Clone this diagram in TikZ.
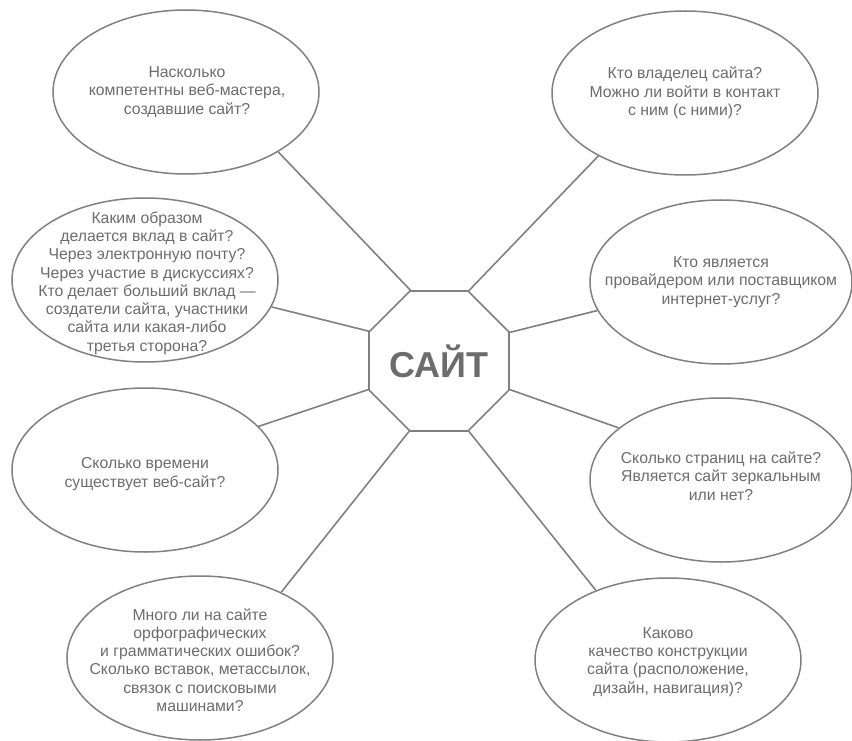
\documentclass[tikz,border=0pt]{standalone}
\usepackage{fontspec}
\setmainfont{Liberation Sans}
\usetikzlibrary{shapes.geometric}
\definecolor{ink}{RGB}{108,108,108}
\definecolor{lineclr}{RGB}{128,128,128}
\begin{document}
\begin{tikzpicture}[x=1pt,y=-1pt,
  bubble/.style={ellipse, draw=lineclr, line width=1.5pt, minimum width=266pt, minimum height=164pt, inner sep=0pt},
  txt/.style={text=ink, align=center, inner sep=0pt, font=\fontsize{15.8}{18.3}\selectfont},
  conn/.style={draw=lineclr, line width=1.6pt}]
\useasboundingbox (0,0) rectangle (852,741);

\node[bubble] (e1) at (186,92) {};
\node[bubble] (e2) at (685,93) {};
\node[bubble] (e3) at (145,280) {};
\node[bubble, minimum width=262pt] (e4) at (721,282) {};
\node[bubble] (e5) at (145,470) {};
\node[bubble, minimum width=262pt] (e6) at (721,480) {};
\node[bubble] (e7) at (200,658) {};
\node[bubble] (e8) at (668,660) {};

\node[txt] (t1) at (187,92) {Насколько\\компетентны веб-мастера,\\создавшие сайт?};
\node[txt] (t2) at (685,93) {Кто владелец сайта?\\Можно ли войти в контакт\\с ним (с ними)?};
\node[txt] (t3) at (147,283) {Каким образом\\делается вклад в сайт?\\Через электронную почту?\\Через участие в дискуссиях?\\Кто делает больший вклад ---\\создатели сайта, участники\\сайта или какая-либо\\третья сторона?};
\node[txt] (t4) at (721,282) {Кто является\\провайдером или поставщиком\\интернет-услуг?};
\node[txt] (t5) at (145,474) {Сколько времени\\существует веб-сайт?};
\node[txt] (t6) at (721,476) {Сколько страниц на сайте?\\Является сайт зеркальным\\или нет?};
\node[txt] (t7) at (200,660) {Много ли на сайте\\орфографических\\и грамматических ошибок?\\Сколько вставок, метассылок,\\связок с поисковыми\\машинами?};
\node[txt] (t8) at (668,662) {Каково\\качество конструкции\\сайта (расположение,\\дизайн, навигация)?};

\node[regular polygon, regular polygon sides=8, minimum size=148pt, draw=lineclr, line width=1.6pt, inner sep=0pt, text=ink, font=\fontsize{36}{40}\selectfont\bfseries] (site) at (439,361) {САЙТ};

\draw[conn] (site.112.5) -- (e1.-33);
\draw[conn] (site.67.5) -- (e2.216);
\draw[conn] (site.157.5) -- (e3.-12);
\draw[conn] (site.22.5) -- (e4.193);
\draw[conn] (site.202.5) -- (e5.21);
\draw[conn] (site.-22.5) -- (e6.153);
\draw[conn] (site.247.5) -- (e7.39);
\draw[conn] (site.-67.5) -- (e8.136);
\end{tikzpicture}
\end{document}
